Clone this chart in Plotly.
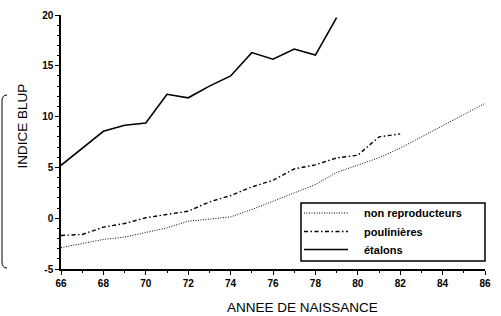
import plotly.graph_objects as go

years_etalons = [66, 67, 68, 69, 70, 71, 72, 73, 74, 75, 76, 77, 78, 79]
etalons = [5.2, 6.9, 8.55, 9.15, 9.37, 12.2, 11.85, 13.0, 14.0, 16.3, 15.65, 16.65, 16.05, 19.75]

years_poul = [66, 67, 68, 69, 70, 71, 72, 73, 74, 75, 76, 77, 78, 79, 80, 81, 82]
poulinieres = [-1.7, -1.6, -0.88, -0.52, 0.04, 0.36, 0.69, 1.6, 2.23, 3.08, 3.73, 4.85, 5.25, 5.93, 6.2, 8.0, 8.3]

years_nonrep = [66, 67, 68, 69, 70, 71, 72, 73, 74, 75, 76, 77, 78, 79, 80, 81, 82, 83, 84, 85, 86]
non_repro = [-2.9, -2.5, -2.09, -1.86, -1.37, -0.95, -0.3, -0.06, 0.13, 0.85, 1.67, 2.55, 3.31, 4.5, 5.2, 5.95, 6.9, 8.0, 9.1, 10.2, 11.3]

series_names = ["non reproducteurs", "poulinières", "étalons"]

x_ticks = list(range(66, 87, 2))
y_ticks = [-5, 0, 5, 10, 15, 20]

font_family = "Liberation Sans, Arial, sans-serif"

L, R, T, B = 61, 16, 15, 47
W, H = 501, 316
PW, PH = W - L - R, H - T - B


def px(x):
    return (x - L) / PW


def py(y):
    return (H - B - y) / PH


styles = [
    dict(color="black", width=1, dash="1px,1.5px"),
    dict(color="black", width=1.4, dash="4px,2.5px,1.5px,2.5px"),
    dict(color="black", width=1.6),
]

fig = go.Figure()
for xs, ys, name, st in zip([years_nonrep, years_poul, years_etalons],
                            [non_repro, poulinieres, etalons], series_names, styles):
    fig.add_trace(go.Scatter(x=xs, y=ys, mode="lines", name=name, line=st, showlegend=False))

# boxed legend drawn as in the reference
shapes = [
    dict(type="rect", xref="paper", yref="paper", x0=px(301), x1=px(485), y0=py(261), y1=py(203),
         line=dict(color="black", width=1.5), fillcolor="white", layer="above"),
    dict(type="path", xref="paper", yref="paper",
         path=f"M {px(7)},{py(95)} Q {px(2)},{py(95)} {px(2)},{py(101)} "
              f"L {px(2)},{py(262)} Q {px(2)},{py(268)} {px(7)},{py(268)}",
         line=dict(color="black", width=1)),
]
annotations = [
    dict(text="INDICE BLUP", xref="paper", yref="paper", x=px(21.5), y=py(126),
         xanchor="center", yanchor="middle",
         textangle=-90, showarrow=False, font=dict(size=13.5, family=font_family)),
    dict(text="ANNEE DE NAISSANCE", xref="paper", yref="paper", x=px(302), y=py(315.5),
         xanchor="center", yanchor="bottom", showarrow=False, borderpad=0,
         font=dict(size=13.5, family=font_family)),
]
row_y = [213, 231.5, 249.5]
for name, st, ry in zip(series_names, styles, row_y):
    shapes.append(dict(type="line", xref="paper", yref="paper", x0=px(304), x1=px(348),
                       y0=py(ry), y1=py(ry), line=st, layer="above"))
    annotations.append(dict(text=name, xref="paper", yref="paper", x=px(362), y=py(ry),
                            xanchor="left", yanchor="middle", showarrow=False,
                            font=dict(size=11, family=font_family, weight="bold")))

fig.update_layout(
    width=W, height=H,
    margin=dict(l=L, r=R, t=T, b=B, autoexpand=False),
    paper_bgcolor="white", plot_bgcolor="white",
    font=dict(family=font_family, color="black", size=10),
    showlegend=False,
    xaxis=dict(
        range=[66, 86], tickvals=x_ticks, ticktext=[str(v) for v in x_ticks],
        showgrid=False, zeroline=False, showline=True, linecolor="black", linewidth=1.5,
        ticks="outside", ticklen=4, tickwidth=1.2, tickcolor="black", automargin=False,
        minor=dict(dtick=1, ticks="outside", ticklen=2, tickcolor="black", tickwidth=1),
        tickfont=dict(size=10, weight="bold"),
    ),
    yaxis=dict(
        range=[-5, 20], tickvals=y_ticks, ticktext=[str(v) for v in y_ticks],
        showgrid=False, zeroline=False, showline=True, linecolor="black", linewidth=1.5,
        ticks="outside", ticklen=4, tickwidth=1.2, tickcolor="black", automargin=False,
        minor=dict(dtick=1, ticks="outside", ticklen=2, tickcolor="black", tickwidth=1),
        tickfont=dict(size=10, weight="bold"),
    ),
    annotations=annotations,
    shapes=shapes,
)

fig.write_html("out.html", config={"displayModeBar": False},
               post_script="document.body.style.margin='0';")
